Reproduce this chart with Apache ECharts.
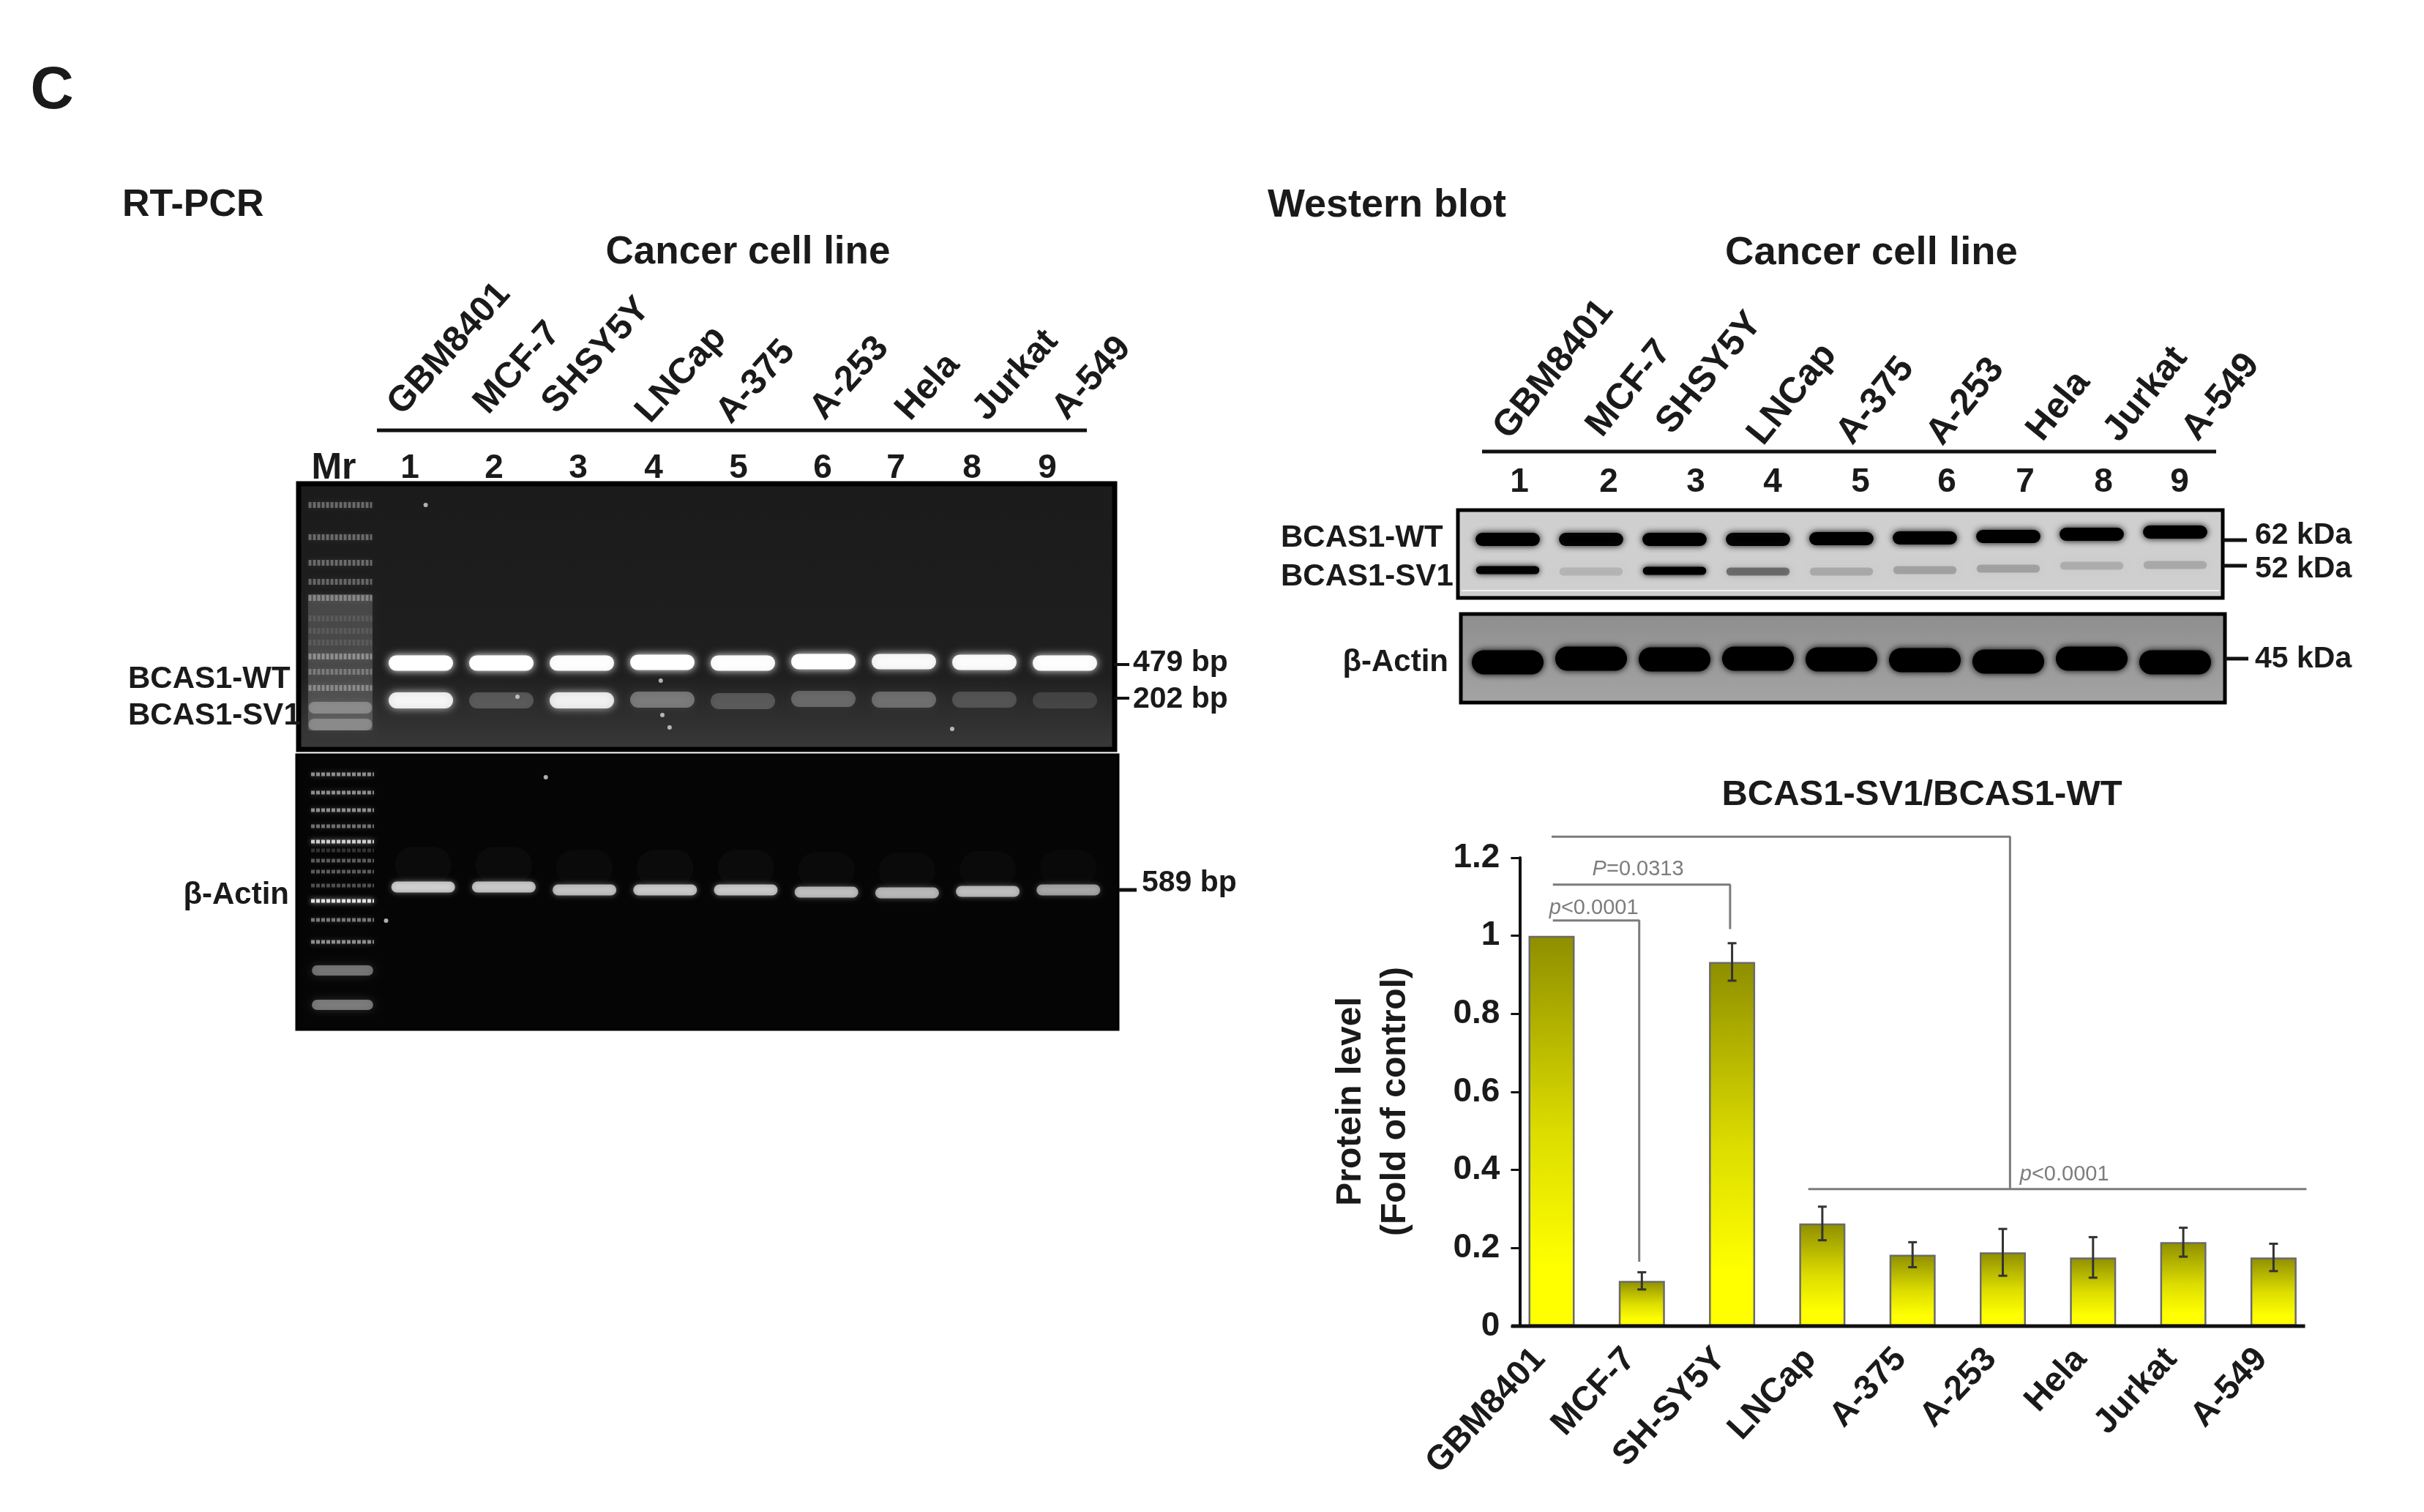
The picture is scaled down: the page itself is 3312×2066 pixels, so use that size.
<!DOCTYPE html>
<html>
<head>
<meta charset="utf-8">
<title>BCAS1 panel C</title>
<script src="https://cdn.jsdelivr.net/npm/echarts@6/dist/echarts.min.js"></script>
<style>
  html, body { margin: 0; padding: 0; background: #fff; }
  #chart { width: 3312px; height: 2066px; }
</style>
</head>
<body>
<div id="chart"></div>
<script>
// bar chart values
const cellLines = ["GBM8401", "MCF-7", "SH-SY5Y", "LNCap", "A-375", "A-253", "Hela", "Jurkat", "A-549"];
const proteinLevel = [1, 0.116, 0.933, 0.263, 0.183, 0.189, 0.176, 0.215, 0.176];
const proteinError = [0, 0.022, 0.048, 0.043, 0.032, 0.06, 0.052, 0.037, 0.035];
const yTicks = [0, 0.2, 0.4, 0.6, 0.8, 1, 1.2];

// significance brackets, [bar position, level]
const bracketAll = [[0, 1.254], [5.08, 1.254], [5.08, 0.351]];
const bracketAllFoot = [[2.844, 0.351], [8.365, 0.351]];
const bracketSh = [[0.014, 1.131], [1.978, 1.131], [1.978, 1.017]];
const bracketMcf = [[0.014, 1.039], [0.971, 1.039], [0.971, 0.165]];
const pNotes = [[-0.03, 1.071, "p", "<0.0001"], [0.447, 1.17, "P", "=0.0313"], [5.185, 0.388, "p", "<0.0001"]];

// gels: lanes, migration distance from the top of the gel, band strength
const lanes = [1, 2, 3, 4, 5, 6, 7, 8, 9];
const rtWtMigration = [245, 245, 245, 244, 245, 243, 243, 244, 245];
const rtWtStrength = [1, 1, 0.95, 1, 0.95, 1, 0.9, 0.92, 0.95];
const rtSvMigration = [296, 296, 296, 295, 297, 294, 295, 295, 296];
const rtSvStrength = [0.85, 0.2, 0.82, 0.32, 0.2, 0.26, 0.28, 0.18, 0.12];
const rtActinMigration = [181, 181, 185, 185, 185, 188, 189, 187, 185];
const rtActinStrength = [0.66, 0.64, 0.62, 0.64, 0.64, 0.6, 0.58, 0.6, 0.52];
const rtLadderMigration = [29, 73, 108, 134, 156, 184, 201, 217, 236, 257, 279];
const rtLadderStrength = [0.32, 0.32, 0.32, 0.3, 0.32, 0.1, 0.1, 0.1, 0.36, 0.26, 0.32];
const rtLadderWideMigration = [306, 329];
const rtLadderWideStrength = [0.28, 0.26];
const actinLadderMigration = [27, 52, 76, 98, 119, 131, 145, 160, 179, 200, 226, 256];
const actinLadderStrength = [0.5, 0.5, 0.5, 0.4, 0.75, 0.18, 0.32, 0.32, 0.28, 0.85, 0.42, 0.5];
const actinLadderWideMigration = [295, 342];
const actinLadderWideStrength = [0.38, 0.4];
const rtSpecks = [[1.06, 29], [2.2, 291], [4, 316], [4.09, 333], [3.98, 269], [7.6, 335]];
const actinSpecks = [[2.52, 31], [0.54, 227]];

const wbWtMigration = [40, 40, 40, 40, 39, 38, 36, 33, 30];
const wbWtStrength = [1, 0.95, 1, 0.95, 1, 1, 1, 1, 1];
const wbSvMigration = [82, 84, 83, 84, 84, 82, 80, 76, 75];
const wbSvStrength = [0.95, 0.12, 1, 0.42, 0.17, 0.2, 0.2, 0.15, 0.17];
const wbActinMigration = [66, 61, 62, 61, 62, 63, 65, 61, 66];
const wbActinStrength = [1, 1, 1, 1, 1, 1, 1, 1, 1];

// labels
const topLabels = ["GBM8401", "MCF-7", "SHSY5Y", "LNCap", "A-375", "A-253", "Hela", "Jurkat", "A-549"];
const laneLabels = ["1", "2", "3", "4", "5", "6", "7", "8", "9"];

const FONT = '"Liberation Sans", Arial, sans-serif';
const INK = "#1a1a1a";

function zip(xs, ys, vs) {
  return xs.map((x, i) => [x, ys[i], vs[i]]);
}

// one band per data row; rgb picks glowing (gel) or dark (blot) bands
function bands(grid, rows, o) {
  return {
    type: "custom",
    xAxisIndex: grid + 1,
    yAxisIndex: grid,
    silent: true,
    z: o.z || 3,
    data: rows,
    encode: { x: 0, y: 1 },
    renderItem: function (params, api) {
      const c = api.coord([api.value(0), api.value(1)]);
      const w = api.size([o.width, 0])[0];
      const a = api.value(2);
      const col = "rgba(" + o.rgb + "," + a + ")";
      if (o.dash) {
        return {
          type: "line",
          shape: { x1: c[0] - w / 2, y1: c[1], x2: c[0] + w / 2, y2: c[1] },
          style: { stroke: col, lineWidth: o.thick, lineDash: o.dash, shadowBlur: o.blur, shadowColor: col }
        };
      }
      return {
        type: "rect",
        shape: { x: c[0] - w / 2, y: c[1] - o.thick / 2, width: w, height: o.thick, r: o.round === undefined ? o.thick / 2 : o.round },
        style: { fill: col, shadowBlur: o.blur, shadowColor: col }
      };
    }
  };
}

function laneRows(mig, str) {
  return zip(lanes, mig, str);
}
function ladderRows(mig, str) {
  return mig.map((m, i) => [0, m, str[i]]);
}

function specks(grid, rows) {
  return {
    type: "scatter",
    xAxisIndex: grid + 1,
    yAxisIndex: grid,
    silent: true,
    z: 4,
    symbolSize: 6,
    itemStyle: { color: "#d8d8d8" },
    data: rows
  };
}

function bracket(points) {
  return {
    type: "line",
    xAxisIndex: 1,
    yAxisIndex: 0,
    silent: true,
    clip: false,
    showSymbol: false,
    z: 5,
    lineStyle: { color: "#7c7c7c", width: 3 },
    data: points
  };
}

// panel layout: grid box and x scale, lanes sit at lane0 + n * pitch
function panel(left, top, width, height, lane0, pitch, opts) {
  return {
    grid: Object.assign({ show: true, left: left, top: top, width: width, height: height, containLabel: false }, opts),
    x: { type: "value", show: false, min: (left - lane0) / pitch, max: (left + width - lane0) / pitch },
    y: { type: "value", show: false, inverse: true, min: 0, max: height }
  };
}

function vgrad(stops) {
  return new echarts.graphic.LinearGradient(0, 0, 0, 1, stops.map(s => ({ offset: s[0], color: s[1] })));
}

const panels = [
  panel(408, 661, 1115, 363, 465, 110, {
    backgroundColor: vgrad([[0, "#1b1b1b"], [0.72, "#1f1f1f"], [0.85, "#2c2c2c"], [1, "#3a3a3a"]]),
    borderColor: "#000", borderWidth: 7
  }),
  panel(405, 1031, 1123, 376, 468, 110.2, { backgroundColor: "#050505", borderColor: "#000", borderWidth: 3 }),
  panel(1992, 697, 1045, 120, 2060 - 114, 114, {
    backgroundColor: "#cfcfcf", borderColor: "#000", borderWidth: 5
  }),
  panel(1996, 839, 1044, 121, 2060 - 114, 114, {
    backgroundColor: vgrad([[0, "#8e8e8e"], [1, "#a4a4a4"]]), borderColor: "#000", borderWidth: 5
  })
];

const GLOW = "255,255,255";
const DARK = "0,0,0";

const seriesList = [
  {
    type: "bar",
    xAxisIndex: 0,
    yAxisIndex: 0,
    barWidth: 63,
    silent: true,
    z: 2,
    itemStyle: {
      color: new echarts.graphic.LinearGradient(0, 0, 0, 1, [
        { offset: 0, color: "#8e8e00" },
        { offset: 0.5, color: "#dcdc00" },
        { offset: 0.85, color: "#ffff00" },
        { offset: 1, color: "#ffff00" }
      ]),
      borderColor: "#6a6a6a",
      borderWidth: 2.5
    },
    data: proteinLevel
  },
  {
    // error bars
    type: "custom",
    xAxisIndex: 1,
    yAxisIndex: 0,
    silent: true,
    z: 4,
    data: proteinLevel.map((v, i) => [i, v, proteinError[i]]),
    renderItem: function (params, api) {
      if (!api.value(2)) return null;
      const x = api.value(0), v = api.value(1), e = api.value(2);
      const hi = api.coord([x, v + e]), lo = api.coord([x, v - e]);
      const s = { stroke: "#333", lineWidth: 3 };
      return {
        type: "group",
        children: [
          { type: "line", shape: { x1: hi[0], y1: hi[1], x2: lo[0], y2: lo[1] }, style: s },
          { type: "line", shape: { x1: hi[0] - 6, y1: hi[1], x2: hi[0] + 6, y2: hi[1] }, style: s },
          { type: "line", shape: { x1: lo[0] - 6, y1: lo[1], x2: lo[0] + 6, y2: lo[1] }, style: s }
        ]
      };
    }
  },
  bracket(bracketAll),
  bracket(bracketAllFoot),
  bracket(bracketSh),
  bracket(bracketMcf),
  {
    // baseline of the bar chart, runs a little past the first and last bar
    type: "line",
    xAxisIndex: 1,
    yAxisIndex: 0,
    silent: true,
    clip: false,
    showSymbol: false,
    z: 6,
    lineStyle: { color: "#111", width: 5 },
    data: [[-0.446, 0], [8.35, 0]]
  },
  {
    type: "scatter",
    xAxisIndex: 1,
    yAxisIndex: 0,
    silent: true,
    clip: false,
    symbolSize: 1,
    itemStyle: { color: "rgba(0,0,0,0)" },
    z: 6,
    data: pNotes.map(p => ({ value: [p[0], p[1]], note: p[2] + "|" + p[3] })),
    label: {
      show: true,
      position: "right",
      distance: 0,
      formatter: function (d) {
        const parts = d.data.note.split("|");
        return "{i|" + parts[0] + "}{n|" + parts[1] + "}";
      },
      rich: {
        i: { fontFamily: FONT, fontSize: 29, fontStyle: "italic", color: "#5c5c5c" },
        n: { fontFamily: FONT, fontSize: 29, color: "#5c5c5c" }
      }
    }
  },

  // RT-PCR top gel
  bands(1, [[0, 244, 0.17]], { width: 0.8, thick: 186, blur: 8, rgb: GLOW, z: 2, round: 2 }),
  bands(1, ladderRows(rtLadderMigration, rtLadderStrength), { width: 0.79, thick: 8, blur: 8, rgb: GLOW, dash: [4, 2] }),
  bands(1, ladderRows(rtLadderWideMigration, rtLadderWideStrength), { width: 0.79, thick: 16, blur: 10, rgb: GLOW }),
  bands(1, laneRows(rtWtMigration, rtWtStrength), { width: 0.8, thick: 21, blur: 11, rgb: GLOW }),
  bands(1, laneRows(rtSvMigration, rtSvStrength), { width: 0.8, thick: 22, blur: 12, rgb: GLOW }),
  specks(1, rtSpecks),

  // RT-PCR actin gel
  bands(2, ladderRows(actinLadderMigration, actinLadderStrength), { width: 0.78, thick: 5, blur: 7, rgb: GLOW, dash: [5, 2] }),
  bands(2, ladderRows(actinLadderWideMigration, actinLadderWideStrength), { width: 0.76, thick: 14, blur: 12, rgb: GLOW }),
  bands(2, laneRows(rtActinMigration.map(m => m - 30), rtActinStrength.map(s => s * 0.04)), { width: 0.7, thick: 50, blur: 24, rgb: GLOW, z: 2 }),
  bands(2, laneRows(rtActinMigration, rtActinStrength), { width: 0.79, thick: 15, blur: 7, rgb: GLOW }),
  specks(2, actinSpecks),

  // western blots
  bands(3, laneRows(wbWtMigration, wbWtStrength), { width: 0.77, thick: 18, blur: 10, rgb: DARK }),
  bands(3, laneRows(wbSvMigration, wbSvStrength), { width: 0.76, thick: 11, blur: 8, rgb: DARK }),
  bands(4, laneRows(wbActinMigration, wbActinStrength), { width: 0.86, thick: 33, blur: 10, rgb: DARK })
];

const grids = [{ left: 2058.35, top: 1172, width: 1109.7, height: 640, containLabel: false }].concat(panels.map(p => p.grid));

const xAxes = [
  {
    type: "category",
    gridIndex: 0,
    data: cellLines,
    axisLine: { show: false },
    axisTick: { show: false },
    axisLabel: { rotate: 47, margin: 20, padding: [0, 24, 0, 0], fontFamily: FONT, fontSize: 47, fontWeight: "bold", color: INK }
  },
  { type: "value", gridIndex: 0, show: false, min: -0.5, max: 8.5 }
].concat(panels.map((p, i) => Object.assign({ gridIndex: i + 1 }, p.x)));

const yAxes = [
  {
    type: "value",
    gridIndex: 0,
    min: yTicks[0],
    max: yTicks[yTicks.length - 1],
    interval: 0.2,
    offset: -18,
    name: "Protein level\n(Fold of control)",
    nameLocation: "middle",
    nameGap: 139,
    nameRotate: 90,
    nameTextStyle: { fontFamily: FONT, fontSize: 48, fontWeight: "bold", color: INK, lineHeight: 61, padding: [0, 26, 0, 0] },
    axisLine: { show: true, onZero: false, lineStyle: { color: "#111", width: 4 } },
    axisTick: { show: true, length: 12, lineStyle: { color: "#111", width: 3 } },
    splitLine: { show: false },
    axisLabel: { margin: 27, fontFamily: FONT, fontSize: 46, fontWeight: "bold", color: INK }
  }
].concat(panels.map((p, i) => Object.assign({ gridIndex: i + 1 }, p.y)));

function txt(text, x, y, size, extra) {
  const o = extra || {};
  return {
    type: "text",
    x: x,
    y: y,
    rotation: o.rotate ? (o.rotate * Math.PI) / 180 : 0,
    z: 20,
    silent: true,
    style: {
      text: text,
      fontFamily: FONT,
      fontSize: size,
      fontWeight: "bold",
      fill: INK,
      align: o.align || "left",
      verticalAlign: "middle"
    }
  };
}
function rule(x1, y1, x2, y2, width, color) {
  return { type: "line", z: 20, silent: true, shape: { x1: x1, y1: y1, x2: x2, y2: y2 }, style: { stroke: color || "#111", lineWidth: width } };
}

const leftTopX = [614, 707, 815, 931, 1033, 1161, 1268, 1388, 1492];
const leftTopY = [477, 503, 486, 512, 522, 517, 529, 513, 517];
const rightTopX = [2123, 2226, 2336, 2449, 2563, 2686, 2813, 2932, 3035];
const rightTopY = [505, 531, 510, 539, 548, 549, 555, 539, 543];
const leftNumX = [560, 675, 790, 893, 1009, 1124, 1224, 1328, 1431];
const rightNumX = [2076, 2198, 2317, 2422, 2542, 2660, 2767, 2874, 2978];

const texts = [
  txt("C", 71, 125, 82, { align: "center" }),
  txt("RT-PCR", 167, 281, 52),
  txt("Western blot", 1732, 281, 54),
  txt("Cancer cell line", 1022, 345, 53, { align: "center" }),
  txt("Cancer cell line", 2557, 346, 54.5, { align: "center" }),
  txt("BCAS1-SV1/BCAS1-WT", 2626, 1086, 49, { align: "center" }),
  txt("Mr", 456, 640, 50, { align: "center" }),
  txt("BCAS1-WT", 175, 928, 42),
  txt("BCAS1-SV1", 175, 978, 42),
  txt("\u03b2-Actin", 395, 1223, 42, { align: "right" }),
  txt("479 bp", 1548, 906, 41),
  txt("202 bp", 1548, 956, 41),
  txt("589 bp", 1560, 1207, 41),
  txt("BCAS1-WT", 1750, 735, 42),
  txt("BCAS1-SV1", 1750, 788, 42),
  txt("\u03b2-Actin", 1979, 905, 42, { align: "right" }),
  txt("62 kDa", 3081, 732, 41),
  txt("52 kDa", 3081, 778, 41),
  txt("45 kDa", 3081, 901, 41),
  rule(515, 588, 1485, 588, 5),
  rule(2025, 617, 3028, 617, 5),
  rule(1522, 908, 1543, 908, 4),
  rule(1522, 954, 1543, 954, 4),
  rule(1528, 1216, 1553, 1216, 5),
  rule(3037, 738, 3070, 738, 5),
  rule(3037, 773, 3070, 773, 5),
  rule(3040, 900, 3072, 900, 5),
  rule(1997, 807, 3032, 807, 2, "#f2f2f2")
]
  .concat(topLabels.map((t, i) => txt(t, leftTopX[i], leftTopY[i], 49, { align: "center", rotate: 48 })))
  .concat(topLabels.map((t, i) => txt(t, rightTopX[i], rightTopY[i], 50, { align: "center", rotate: 51 })))
  .concat(laneLabels.map((t, i) => txt(t, leftNumX[i], 640, 46, { align: "center" })))
  .concat(laneLabels.map((t, i) => txt(t, rightNumX[i], 659, 46, { align: "center" })));

const chart = echarts.init(document.getElementById("chart"));
chart.setOption({
  animation: false,
  backgroundColor: "#fff",
  grid: grids,
  xAxis: xAxes,
  yAxis: yAxes,
  series: seriesList,
  graphic: { elements: texts }
});
</script>
</body>
</html>
